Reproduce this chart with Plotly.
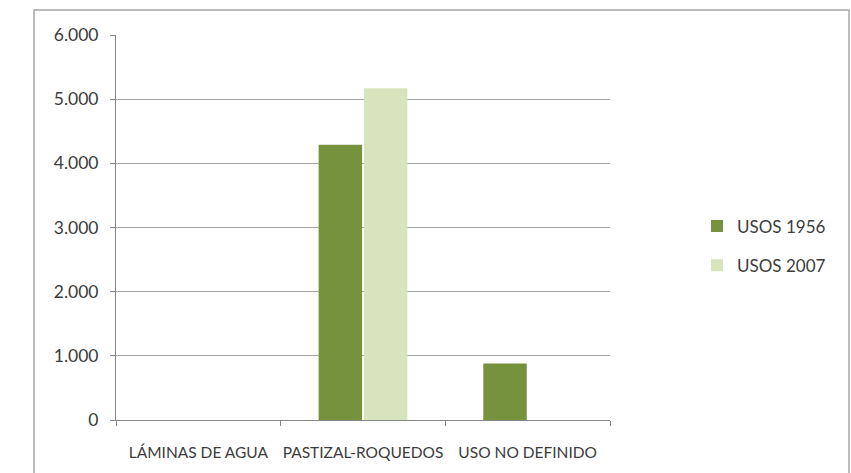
import plotly.graph_objects as go

categories = ["LÁMINAS DE AGUA", "PASTIZAL-ROQUEDOS", "USO NO DEFINIDO"]
usos_1956 = [0, 4290, 880]
usos_2007 = [0, 5170, 0]
series_names = ["USOS 1956", "USOS 2007"]
y_ticks = [0, 1000, 2000, 3000, 4000, 5000, 6000]

W, H = 851, 473
OFF = 0  # body margin removed by post_script
AX_L, AX_R, AX_T, AX_B = 116, 610, 35, 420
L = AX_L - OFF
T = AX_T - OFF
R = W - (AX_R - OFF)
B = H - (AX_B - OFF)
pw, ph = W - L - R, H - T - B

def px_x(x):
    return (x - OFF - L) / pw

def px_y(y):
    return (H - B - (y - OFF)) / ph

fig = go.Figure()
fig.add_trace(go.Bar(x=categories, y=usos_1956, name=series_names[0], legendgroup="a",
                     marker=dict(color="#76923c", line=dict(width=0))))
fig.add_trace(go.Bar(x=categories, y=usos_2007, name=series_names[1], legendgroup="b",
                     marker=dict(color="#d7e4bd", line=dict(width=0))))

fig.add_shape(type="rect", xref="paper", yref="paper",
              x0=px_x(34), x1=px_x(849), y0=px_y(490), y1=px_y(10),
              line=dict(color="#a6a6a6", width=1.5), fillcolor="rgba(0,0,0,0)", layer="below")

fam = "Lato, Open Sans, sans-serif"
col = "#3c3c3c"

fig.update_layout(
    width=W, height=H,
    margin=dict(l=L, r=R, t=T, b=B, autoexpand=False),
    paper_bgcolor="white", plot_bgcolor="white",
    barmode="group", bargap=0.45, bargroupgap=0.04,
    separators=",.",
    font=dict(family=fam, size=14, color=col),
    legend=dict(x=px_x(697), y=px_y(246), xanchor="left", yanchor="middle",
                font=dict(family=fam, size=17, color=col),
                itemwidth=30, tracegroupgap=14, traceorder="grouped",
                bgcolor="rgba(0,0,0,0)"),
    xaxis=dict(showline=True, linecolor="#868686", linewidth=1,
               ticks="outside", tickson="boundaries", ticklen=5, tickcolor="#868686",
               tickangle=0, automargin=False, ticklabelstandoff=18,
               showgrid=False, tickfont=dict(family=fam, size=15.5, color=col)),
    yaxis=dict(range=[0, 6000], tickvals=y_ticks, tickformat=",d",
               showline=True, linecolor="#868686", linewidth=1,
               ticks="outside", ticklen=5, tickcolor="#868686", automargin=False,
               ticklabelstandoff=8,
               showgrid=True, gridcolor="#a6a6a6", gridwidth=1,
               zeroline=False, tickfont=dict(family=fam, size=17.5, color=col)),
)

fig.write_html("out.html", config={"displayModeBar": False},
               post_script="document.body.style.margin='0';document.body.style.overflow='hidden';")
